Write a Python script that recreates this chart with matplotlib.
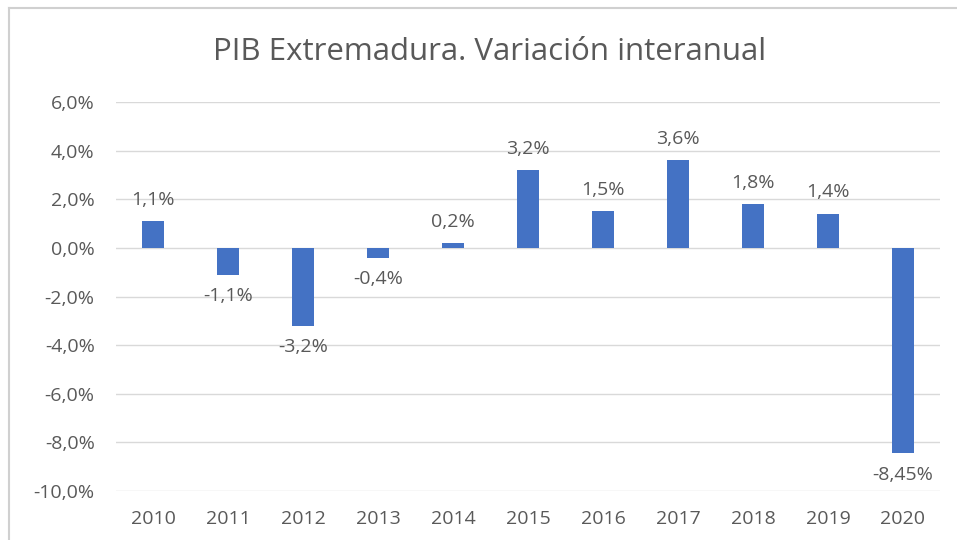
import matplotlib.pyplot as plt
from matplotlib.lines import Line2D

# datos
years = ['2010', '2011', '2012', '2013', '2014', '2015', '2016', '2017', '2018', '2019', '2020']
pib = [1.1, -1.1, -3.2, -0.4, 0.2, 3.2, 1.5, 3.6, 1.8, 1.4, -8.45]
labels = ['1,1%', '-1,1%', '-3,2%', '-0,4%', '0,2%', '3,2%', '1,5%', '3,6%', '1,8%', '1,4%', '-8,45%']
yticks = [6, 4, 2, 0, -2, -4, -6, -8, -10]

plt.rcParams['font.family'] = ['Open Sans', 'DejaVu Sans']
grey = '#595959'

fig = plt.figure(figsize=(9.57, 5.4), dpi=100)
ax = fig.add_axes([0.1207, 0.0907, 0.862, 0.7204])

x = range(len(years))
ax.bar(x, pib, width=0.29, color='#4472C4', zorder=3)

for i, (v, lab) in enumerate(zip(pib, labels)):
    if v >= 0:
        ax.annotate(lab, (i, v), xytext=(0, 9), textcoords='offset points',
                    ha='center', va='bottom', fontsize=14, color=grey)
    else:
        ax.annotate(lab, (i, v), xytext=(0, -9), textcoords='offset points',
                    ha='center', va='top', fontsize=14, color=grey)

ax.set_xlim(-0.5, len(years) - 0.5)
ax.set_ylim(-10, 6)
ax.set_yticks(yticks)
ax.set_yticklabels([('%.1f%%' % t).replace('.', ',') for t in yticks])
ax.set_xticks(list(x))
ax.set_xticklabels(years)
ax.tick_params(length=0, labelsize=14, labelcolor=grey)
ax.tick_params(axis='x', pad=14)
ax.tick_params(axis='y', pad=15)
ax.grid(axis='y', color='#d9d9d9', linewidth=1, zorder=0)
for s in ax.spines.values():
    s.set_visible(False)

fig.text(0.512, 0.903, 'PIB Extremadura. Variación interanual', ha='center', va='center',
         fontsize=22.5, color=grey)

# marco del grafico
fig.add_artist(Line2D([0.009, 1.0], [0.985, 0.985], color='#d0d0d0', linewidth=1.5))
fig.add_artist(Line2D([0.009, 0.009], [0.0, 0.985], color='#d0d0d0', linewidth=1.5))

fig.savefig('out.png', dpi=100)
